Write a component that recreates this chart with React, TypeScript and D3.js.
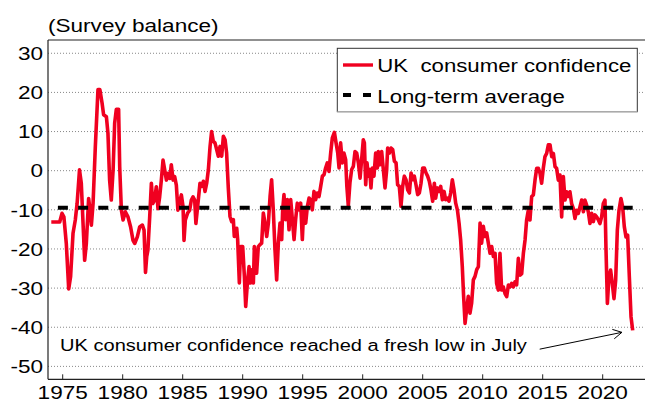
import React from "react";
import * as d3 from "d3";

type Pt = [number, number];

// UK consumer confidence, survey balance: [decimal year, value]
const series1970s: Pt[] = [
  [1974.05, -13.1], [1974.75, -13.1], [1974.94, -10.9], [1975.1, -11.8], [1975.3, -18.6], [1975.5, -30.2],
  [1975.66, -27], [1975.86, -16], [1976.05, -12.6], [1976.2, -8.4], [1976.4, 0.2], [1976.55, -3.2],
  [1976.83, -22.9], [1976.97, -18.6], [1977.16, -7.1], [1977.28, -10.1], [1977.39, -13.9], [1977.53, -8.4],
  [1977.72, 6.2], [1977.94, 20.7], [1978.1, 20.7], [1978.28, 17.3], [1978.41, 14.3], [1978.64, 13.8],
  [1978.77, 9.6], [1978.91, -2.4], [1979.05, -7.5], [1979.2, 0.2], [1979.33, 12.1], [1979.47, 15.7],
  [1979.66, 15.7], [1979.75, 1], [1979.89, -10.1],
];
const series1980s: Pt[] = [
  [1980.03, -12.6], [1980.22, -10.5], [1980.44, -11.8], [1980.66, -14.4], [1980.86, -17.8], [1981, -18.6],
  [1981.22, -16.9], [1981.41, -14.4], [1981.64, -13.9], [1981.78, -15.2], [1981.9, -26], [1982, -22],
  [1982.1, -20.3], [1982.25, -11.8], [1982.39, -3.2], [1982.5, -8.4], [1982.66, -7.5], [1982.8, -4.1],
  [1982.94, -9.7], [1983.08, -6.7], [1983.22, -2.4], [1983.36, 2.7], [1983.5, 0.2], [1983.64, -2.4],
  [1983.78, -0.7], [1983.92, -2], [1984.05, 1.5], [1984.2, -2.4], [1984.33, -1.5], [1984.47, -3.7],
  [1984.6, -10.1], [1984.75, -7.9], [1984.89, -6.2], [1985.03, -9.2], [1985.11, -17.8], [1985.22, -12.6],
  [1985.4, -10.9], [1985.58, -10.1], [1985.72, -7.5], [1985.86, -6.7], [1986, -7.5], [1986.1, -13.5],
  [1986.27, -8.4], [1986.44, -3.2], [1986.58, -4], [1986.72, -2.7], [1986.86, -5.3], [1987, -3.2],
  [1987.14, 0.3], [1987.28, 6.2], [1987.41, 10], [1987.55, 7.5], [1987.69, 7.1], [1987.83, 5.4],
  [1987.97, 3.7], [1988.11, 6.2], [1988.25, 3.7], [1988.39, 8.8], [1988.53, 7.9], [1988.66, 4.5],
  [1988.8, -4.4], [1988.94, -11.7], [1989.08, -13], [1989.22, -12.5], [1989.3, -16.8], [1989.5, -14.7],
  [1989.58, -17.6], [1989.72, -28.7], [1989.83, -19.4],
];
const series1990s: Pt[] = [
  [1990, -19.4], [1990.14, -27], [1990.25, -34.7], [1990.39, -28.7], [1990.53, -24.5], [1990.64, -28.7],
  [1990.75, -25.3], [1990.89, -28.7], [1990.97, -19.4], [1991.16, -26.2], [1991.3, -19.4], [1991.44, -18.9],
  [1991.58, -18.5], [1991.72, -10.8], [1991.86, -13.4], [1992, -16.8], [1992.14, -13.4], [1992.28, -6.6],
  [1992.41, -2.3], [1992.55, -10], [1992.69, -20.2], [1992.83, -27.9], [1992.97, -18.5], [1993.11, -13.4],
  [1993.25, -17.6], [1993.33, -10], [1993.44, -6.1], [1993.58, -12.5], [1993.72, -7.4], [1993.86, -15.1],
  [1994, -7.4], [1994.14, -12.5], [1994.28, -17.6], [1994.41, -12.5], [1994.55, -8.3], [1994.69, -10],
  [1994.83, -8.3], [1994.97, -17.6], [1995.08, -10], [1995.25, -13.4], [1995.39, -9.1], [1995.53, -7],
  [1995.66, -7.4], [1995.8, -10], [1995.94, -5.3], [1996.08, -7.4], [1996.22, -5.7], [1996.36, -6.6],
  [1996.5, -4], [1996.64, -1.4], [1996.78, -1], [1996.91, 0.7], [1997.05, 2], [1997.19, -0.2],
  [1997.33, 4.5], [1997.47, 8.4], [1997.64, 9.8], [1997.78, 7.1], [1997.92, 4.5], [1998.03, 0.7],
  [1998.16, 7.1], [1998.3, 2], [1998.44, 4.5], [1998.58, 2.8], [1998.68, -4], [1998.8, -9],
  [1998.94, -3], [1999.08, 0.3], [1999.22, 1.1], [1999.36, 4.9], [1999.5, 4.5], [1999.64, 2],
  [1999.78, -1.9], [1999.91, 2.8],
];
const series2000s: Pt[] = [
  [2000.05, 7.9], [2000.14, 7.1], [2000.25, -3.6], [2000.36, 2], [2000.47, -1.4], [2000.58, 0.3],
  [2000.69, -4.4], [2000.8, 0.7], [2000.94, -1.4], [2001.08, 4.5], [2001.22, 0.7], [2001.3, 4.9],
  [2001.44, 1.5], [2001.58, 4.9], [2001.72, 0.3], [2001.86, -4.4], [2002, 0.3], [2002.08, 5.8],
  [2002.22, 4.5], [2002.36, 5.8], [2002.5, 5.4], [2002.64, 2.4], [2002.78, 2], [2002.91, -3.6],
  [2003.05, -4], [2003.19, -9.1], [2003.33, -4], [2003.47, -1.4], [2003.61, -2.3], [2003.75, -4.9],
  [2003.89, -5.7], [2004.03, -0.6], [2004.16, -2.3], [2004.3, -1.4], [2004.44, -3.6], [2004.58, -6.1],
  [2004.72, -5.7], [2004.86, -3.2], [2005, 0.7], [2005.14, 0.7], [2005.28, -0.6], [2005.41, -1.4],
  [2005.55, -2.7], [2005.69, -4.9], [2005.83, -7.8], [2005.97, -3.2], [2006.08, -7], [2006.22, -4.4],
  [2006.36, -5.3], [2006.5, -4], [2006.64, -7.4], [2006.78, -5.3], [2006.91, -7.4], [2007.05, -7],
  [2007.19, -7.8], [2007.33, -5.7], [2007.47, -2.3], [2007.61, -4.9], [2007.75, -8.3], [2007.89, -10],
  [2008.03, -13.4], [2008.16, -17.6], [2008.3, -24.5], [2008.41, -32.1], [2008.53, -39], [2008.66, -35.5],
  [2008.8, -32.1], [2008.94, -36.4], [2009.08, -33.8], [2009.22, -27.9], [2009.36, -27], [2009.5, -25.3],
  [2009.64, -24.5], [2009.78, -13.4], [2009.91, -18.5],
];
const series2010s: Pt[] = [
  [2010.05, -14.2], [2010.19, -16.8], [2010.33, -15.9], [2010.47, -18.5], [2010.61, -21.1], [2010.75, -19.4],
  [2010.89, -21.9], [2011.03, -21.1], [2011.16, -28.8], [2011.3, -30.5], [2011.44, -21.1], [2011.58, -30.5],
  [2011.72, -29.7], [2011.86, -31.4], [2012, -32.2], [2012.14, -29.2], [2012.27, -29.7], [2012.41, -28.8],
  [2012.55, -29.7], [2012.69, -28.4], [2012.83, -29.2], [2012.97, -22.4], [2013.11, -26.7], [2013.25, -26.3],
  [2013.39, -21.1], [2013.53, -17.7], [2013.66, -12.6], [2013.8, -10.1], [2013.94, -12.6], [2014.08, -6.6],
  [2014.22, -6.2], [2014.36, -2.4], [2014.5, 0.6], [2014.64, 0.6], [2014.78, -0.7], [2014.91, -3.2],
  [2015.05, 0.6], [2015.19, 3.6], [2015.33, 4.4], [2015.47, 6.6], [2015.61, 6.6], [2015.75, 3.6],
  [2015.89, 4.4], [2016.03, 1], [2016.16, 0.6], [2016.3, -2.4], [2016.44, -1.1], [2016.58, -11.8],
  [2016.72, -1.5], [2016.86, -7.5], [2017, -5.4], [2017.14, -6.6], [2017.27, -5.4], [2017.41, -8.4],
  [2017.55, -9.6], [2017.69, -12.2], [2017.83, -10.1], [2017.97, -10.9], [2018.11, -9.2], [2018.25, -7.5],
  [2018.39, -10.5], [2018.52, -7.5], [2018.66, -8.8], [2018.8, -10.5], [2018.94, -13.5], [2019.08, -10.9],
  [2019.22, -13], [2019.36, -11.3], [2019.5, -11.8], [2019.64, -12.6], [2019.77, -13.5], [2019.91, -11.8],
];
const series2020s: Pt[] = [
  [2020.05, -8.4], [2020.19, -7.5], [2020.27, -19.4], [2020.39, -33.9], [2020.52, -27.1], [2020.66, -25.4],
  [2020.8, -28.8], [2020.94, -32.7], [2021.08, -28], [2021.22, -15.2], [2021.36, -10.1], [2021.52, -7.1],
  [2021.66, -9.2], [2021.8, -14.3], [2021.94, -16.9], [2022.08, -16.5], [2022.22, -27.1], [2022.36, -37.3],
  [2022.5, -40.8],
];

const longTermAverage = -9.5;
const averageSpan: [number, number] = [1974.6, 2022.5];

const yTicks = [30, 20, 10, 0, -10, -20, -30, -40, -50];
const xTicks = [1975, 1980, 1985, 1990, 1995, 2000, 2005, 2010, 2015, 2020];

const axisTitle = "(Survey balance)";
const legendLabels = ["UK  consumer confidence", "Long-term average"];
const annotationText = "UK consumer confidence reached a fresh low in July";
const annotationTextAt: Pt = [1974.78, -46.0];
const arrowFrom: Pt = [2014.75, -45.6];
const arrowTo: Pt = [2021.6, -41.3];

const W = 645;
const H = 403;
const RED = "#f00020";
const FONT = "'Liberation Sans', Arial, Helvetica, sans-serif";

const STxt = ({ x, y, sx = 1.22, size = 18.5, anchor = "start", children }: any) => (
  <text
    transform={`translate(${x},${y}) scale(${sx},1)`}
    textAnchor={anchor}
    fontSize={size}
    fontFamily={FONT}
    fill="#000"
    style={{ whiteSpace: "pre" }}
  >
    {children}
  </text>
);

export default function App() {
  const data = [...series1970s, ...series1980s, ...series1990s, ...series2000s, ...series2010s, ...series2020s];
  const left = 48, right = 645, top = 40, bottom = 379.3;
  const x = d3.scaleLinear().domain([1973.775, 2023.525]).range([left, right]);
  const y = d3.scaleLinear().domain([-53.3, 33.39]).range([bottom, top]);
  const line = d3.line<Pt>().x((d) => x(d[0])).y((d) => y(d[1]));

  const ax1 = x(arrowFrom[0]), ay1 = y(arrowFrom[1]);
  const ax2 = x(arrowTo[0]), ay2 = y(arrowTo[1]);
  const ang = Math.atan2(ay2 - ay1, ax2 - ax1);
  const hl = 10, ha = 0.5;
  const head = `M${ax2 - hl * Math.cos(ang - ha)},${ay2 - hl * Math.sin(ang - ha)}L${ax2},${ay2}L${ax2 - hl * Math.cos(ang + ha)},${ay2 - hl * Math.sin(ang + ha)}`;

  const lgX = 337.3, lgY = 48.3, lgW = 300, lgH = 63.4;

  return (
    <svg width={W} height={H} style={{ position: "absolute", left: 0, top: 0, background: "#fff" }}>
      <rect x={0} y={0} width={W} height={H} fill="#fff" />
      {yTicks.map((t) => (
        <line key={t} x1={left} x2={right} y1={y(t)} y2={y(t)} stroke="#888" strokeWidth={1} strokeDasharray="1,2" />
      ))}
      <path d={line(data) || ""} fill="none" stroke={RED} strokeWidth={3.6} strokeLinejoin="round" />
      <line
        x1={x(averageSpan[0])}
        x2={x(averageSpan[1])}
        y1={y(longTermAverage)}
        y2={y(longTermAverage)}
        stroke="#000"
        strokeWidth={4}
        strokeDasharray="10,10.2"
      />
      <line x1={left} x2={left} y1={top} y2={bottom} stroke="#222" strokeWidth={1.2} />
      <line x1={left} x2={right} y1={top} y2={top} stroke="#222" strokeWidth={1.2} />
      <line x1={left} x2={right} y1={bottom} y2={bottom} stroke="#222" strokeWidth={1.2} />
      {xTicks.map((t) => (
        <g key={t}>
          <line x1={x(t)} x2={x(t)} y1={bottom} y2={bottom - 5} stroke="#222" strokeWidth={1} />
          <STxt x={x(t)} y={399.2} anchor="middle" size={17.5} sx={1.29}>{String(t)}</STxt>
        </g>
      ))}
      {yTicks.map((t) => (
        <STxt key={t} x={43} y={y(t) + 6.7} anchor="end">{String(t)}</STxt>
      ))}
      <STxt x={48} y={32.3}>{axisTitle}</STxt>

      <g>
        <rect x={lgX} y={lgY} width={lgW} height={lgH} fill="#fff" stroke="#333" strokeWidth={1} />
        <line x1={lgX} x2={lgX + lgW} y1={lgY + lgH} y2={lgY + lgH} stroke="#aaa" strokeWidth={1.2} />
        <line x1={343} x2={373} y1={65} y2={65} stroke={RED} strokeWidth={3.4} />
        <STxt x={377.3} y={72.3} sx={1.2}>{legendLabels[0]}</STxt>
        <line x1={343} x2={373} y1={95} y2={95} stroke="#000" strokeWidth={4} strokeDasharray="8,12" />
        <STxt x={377.3} y={102.7} sx={1.2}>{legendLabels[1]}</STxt>
      </g>

      <STxt x={x(annotationTextAt[0])} y={y(annotationTextAt[1])} sx={1.18} size={17}>{annotationText}</STxt>
      <line x1={ax1} y1={ay1} x2={ax2} y2={ay2} stroke="#000" strokeWidth={1} />
      <path d={head} fill="none" stroke="#000" strokeWidth={1} />
    </svg>
  );
}
